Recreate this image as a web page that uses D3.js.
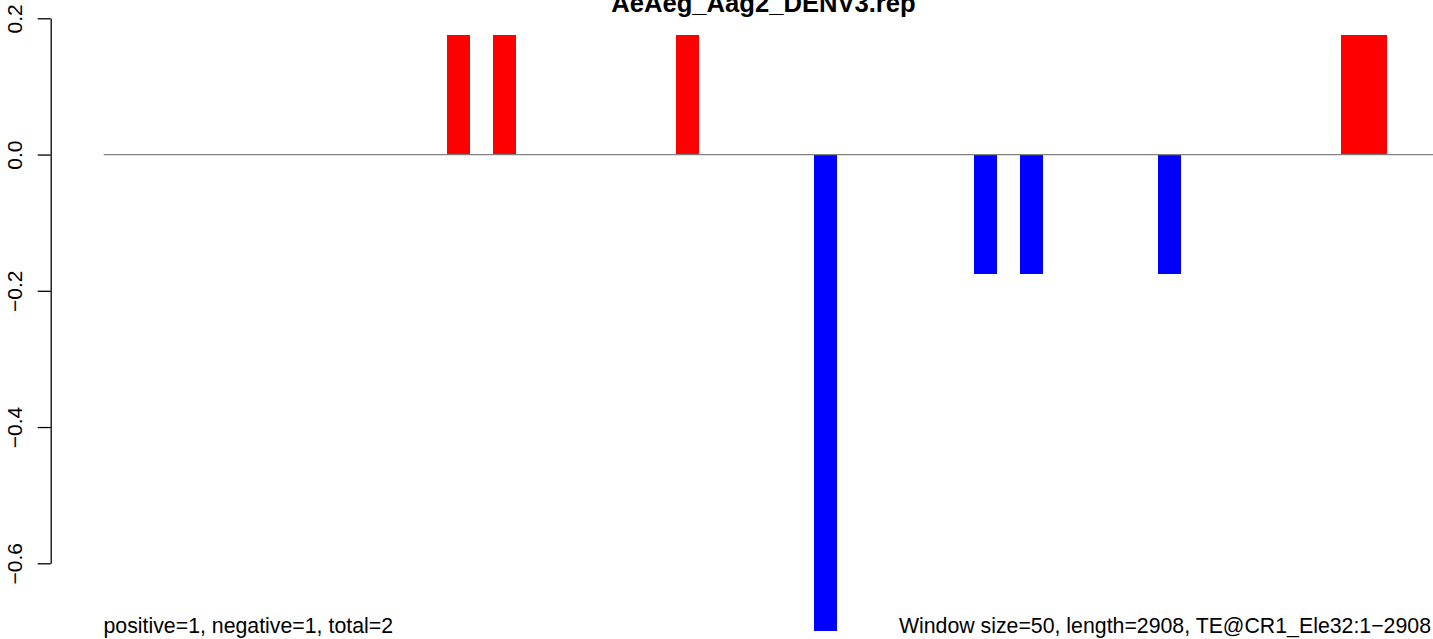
<!DOCTYPE html>
<html>
<head>
<meta charset="utf-8">
<script src="https://cdn.jsdelivr.net/npm/d3@7"></script>
<style>
  html, body { margin: 0; padding: 0; background: #ffffff; }
  svg { display: block; }
  text { font-family: "Liberation Sans", Arial, Helvetica, sans-serif; }
</style>
</head>
<body>
<svg id="chart" width="1433" height="639"></svg>
<script>
// ---- data ----
const title = "AeAeg_Aag2_DENV3.rep";
const windowCount = 59; // length 2908 / window 50
const windowIndex = d3.range(windowCount);
const positiveValues = [
  0, 0, 0, 0, 0, 0, 0, 0, 0, 0,
  0, 0, 0, 0, 0, 0.175, 0, 0.175, 0, 0,
  0, 0, 0, 0, 0, 0.175, 0, 0, 0, 0,
  0, 0, 0, 0, 0, 0, 0, 0, 0, 0,
  0, 0, 0, 0, 0, 0, 0, 0, 0, 0,
  0, 0, 0, 0, 0.175, 0.175, 0, 0, 0
];
const negativeValues = [
  0, 0, 0, 0, 0, 0, 0, 0, 0, 0,
  0, 0, 0, 0, 0, 0, 0, 0, 0, 0,
  0, 0, 0, 0, 0, 0, 0, 0, 0, 0,
  0, -0.7, 0, 0, 0, 0, 0, 0, -0.175, 0,
  -0.175, 0, 0, 0, 0, 0, -0.175, 0, 0, 0,
  0, 0, 0, 0, 0, 0, 0, 0, 0
];
const yTicks = [0.2, 0.0, -0.2, -0.4, -0.6];
const yTickLabels = ["0.2", "0.0", "\u22120.2", "\u22120.4", "\u22120.6"];
const leftNote = "positive=1, negative=1, total=2";
const rightNote = "Window size=50, length=2908, TE@CR1_Ele32:1\u22122908";

// ---- layout ----
const svg = d3.select("#chart");
const x0 = 103.15, pitch = 22.923;
const x = d3.scaleBand()
  .domain(windowIndex)
  .range([x0, x0 + windowCount * pitch])
  .paddingInner(0).paddingOuter(0);
const y = d3.scaleLinear().domain([0.2, -0.6]).range([18.3, 563.3]);

// bars
const g = svg.append("g");
g.selectAll("rect.pos")
  .data(windowIndex.filter(i => positiveValues[i] !== 0))
  .join("rect")
  .attr("class", "pos")
  .attr("x", i => x(i))
  .attr("width", x.bandwidth())
  .attr("y", i => y(positiveValues[i]))
  .attr("height", i => y(0) - y(positiveValues[i]))
  .attr("fill", "#ff0000")
  .attr("shape-rendering", "crispEdges");

g.selectAll("rect.neg")
  .data(windowIndex.filter(i => negativeValues[i] !== 0))
  .join("rect")
  .attr("class", "neg")
  .attr("x", i => x(i))
  .attr("width", x.bandwidth())
  .attr("y", y(0))
  .attr("height", i => y(negativeValues[i]) - y(0))
  .attr("fill", "#0000ff")
  .attr("shape-rendering", "crispEdges");

// zero line
svg.append("line")
  .attr("x1", x0 + 0.5).attr("x2", x.range()[1])
  .attr("y1", y(0)).attr("y2", y(0))
  .attr("stroke", "#808080").attr("stroke-width", 1.2);

// y axis
const axis = d3.axisLeft(y)
  .tickValues(yTicks)
  .tickSize(13)
  .tickSizeOuter(0)
  .tickFormat((d, i) => yTickLabels[i]);
const ax = svg.append("g")
  .attr("transform", "translate(50.7,0)")
  .call(axis);
ax.select(".domain").attr("stroke", "#000").attr("stroke-width", 1.3);
ax.selectAll(".tick line").attr("stroke", "#000").attr("stroke-width", 1.3);
ax.selectAll(".tick text")
  .attr("font-size", "21px")
  .attr("fill", "#000")
  .attr("text-anchor", "middle")
  .attr("x", null).attr("dy", null)
  .attr("transform", "translate(-29.2,0) rotate(-90)");

// title
svg.append("text")
  .attr("x", 763.5).attr("y", 12)
  .attr("text-anchor", "middle")
  .attr("font-size", "25.6px")
  .attr("font-weight", "bold")
  .attr("fill", "#000")
  .text(title);

// bottom notes
svg.append("text")
  .attr("x", 103.5).attr("y", 633)
  .attr("font-size", "21.3px")
  .attr("fill", "#000")
  .text(leftNote);
svg.append("text")
  .attr("x", 1431).attr("y", 633)
  .attr("text-anchor", "end")
  .attr("font-size", "21.3px")
  .attr("fill", "#000")
  .text(rightNote);
</script>
</body>
</html>
